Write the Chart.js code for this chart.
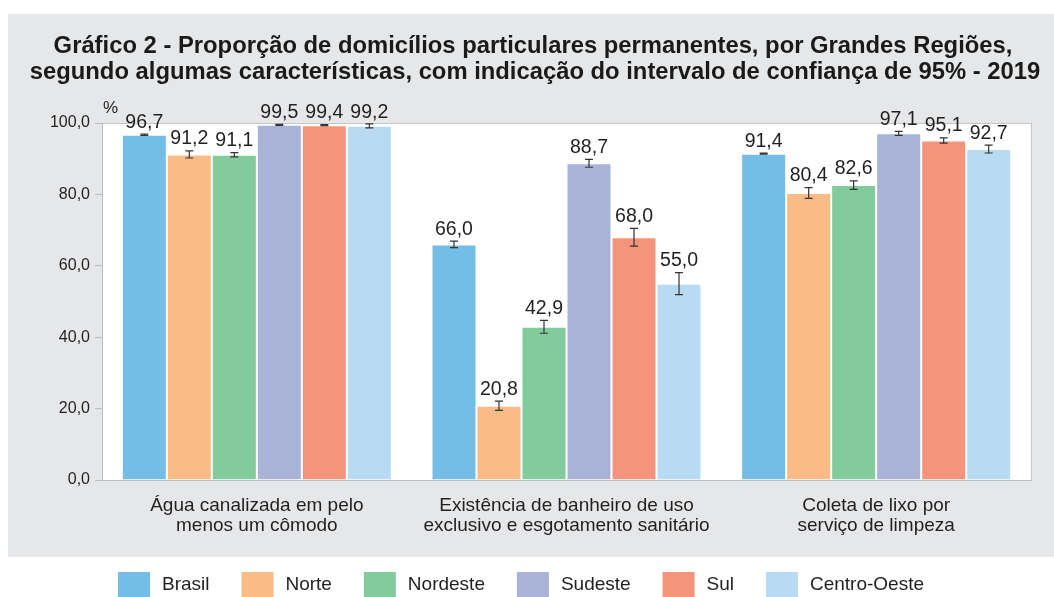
<!DOCTYPE html>
<html><head><meta charset="utf-8">
<script src="https://cdn.jsdelivr.net/npm/chart.js@4"></script>
<style>html,body{margin:0;padding:0;background:#fff;overflow:hidden}#wrap{width:1054px;height:597px}</style>
</head><body><div id="wrap"><canvas id="c" width="1054" height="597"></canvas></div>
<script>
const titleLines = ["Gráfico 2 - Proporção de domicílios particulares permanentes, por Grandes Regiões,",
  "segundo algumas características, com indicação do intervalo de confiança de 95% - 2019"];
const categories = [["Água canalizada em pelo","menos um cômodo"],["Existência de banheiro de uso","exclusivo e esgotamento sanitário"],["Coleta de lixo por","serviço de limpeza"]];
const regions = ["Brasil","Norte","Nordeste","Sudeste","Sul","Centro-Oeste"];
const brasil   = [96.7, 66.0, 91.4];
const norte    = [91.2, 20.8, 80.4];
const nordeste = [91.1, 42.9, 82.6];
const sudeste  = [99.5, 88.7, 97.1];
const sul      = [99.4, 68.0, 95.1];
const centroOeste = [99.2, 55.0, 92.7];
const brasilCI   = [0.2, 0.9, 0.15];
const norteCI    = [1.0, 1.3, 1.5];
const nordesteCI = [0.6, 1.8, 1.2];
const sudesteCI  = [0.15, 1.1, 0.55];
const sulCI      = [0.15, 2.5, 0.75];
const centroOesteCI = [0.55, 3.1, 1.1];
const yTicks = [0, 20, 40, 60, 80, 100];
const colors = ["#73BDE6","#F9BC87","#82CB9C","#A9B3D8","#F4947B","#B8DBF3"];

const seriesValues = [brasil, norte, nordeste, sudeste, sul, centroOeste];
const seriesCI = [brasilCI, norteCI, nordesteCI, sudesteCI, sulCI, centroOesteCI];
const FONT = "'Liberation Sans', Arial, Helvetica, sans-serif";
const fmt = v => v.toFixed(1).replace('.', ',');

const bgPlugin = {
  id: 'bg',
  beforeDraw(chart) {
    const ctx = chart.ctx, a = chart.chartArea;
    ctx.save();
    ctx.fillStyle = '#ffffff';
    ctx.fillRect(0, 0, chart.width, chart.height);
    ctx.fillStyle = '#E6E7E8';
    ctx.fillRect(8, 14, chart.width - 8, 543);
    ctx.fillStyle = '#ffffff';
    ctx.fillRect(a.left, a.top, a.right - a.left, a.bottom - a.top);
    ctx.strokeStyle = '#C4C6C8';
    ctx.lineWidth = 1;
    ctx.strokeRect(a.left + 0.5, a.top + 0.5, a.right - a.left, a.bottom - a.top);
    ctx.restore();
  }
};

const errPlugin = {
  id: 'err',
  afterDatasetsDraw(chart) {
    const ctx = chart.ctx, ys = chart.scales.y;
    ctx.save();
    chart.data.datasets.forEach((ds, di) => {
      const meta = chart.getDatasetMeta(di);
      meta.data.forEach((bar, i) => {
        const v = ds.data[i], e = seriesCI[di][i];
        const yTop = ys.getPixelForValue(v + e), yBot = ys.getPixelForValue(v - e);
        const x = bar.x;
        ctx.strokeStyle = '#333333';
        ctx.lineWidth = 1.2;
        ctx.beginPath();
        ctx.moveTo(x, yTop); ctx.lineTo(x, yBot);
        ctx.moveTo(x - 4, yTop); ctx.lineTo(x + 4, yTop);
        ctx.moveTo(x - 4, yBot); ctx.lineTo(x + 4, yBot);
        ctx.stroke();
        ctx.fillStyle = '#231F20';
        ctx.font = '19.5px ' + FONT;
        ctx.textAlign = 'center';
        ctx.textBaseline = 'bottom';
        ctx.fillText(fmt(v), x, Math.min(bar.y, yTop) - 2);
      });
    });
    ctx.restore();
  }
};

const textPlugin = {
  id: 'texts',
  afterDraw(chart) {
    const ctx = chart.ctx;
    ctx.save();
    ctx.fillStyle = '#1A1A1A';
    ctx.font = 'bold 23.8px ' + FONT;
    ctx.textAlign = 'center';
    ctx.textBaseline = 'middle';
    ctx.fillText(titleLines[0], 533, 46);
    ctx.fillText(titleLines[1], 535, 72);
    ctx.font = '17px ' + FONT;
    ctx.fillStyle = '#231F20';
    ctx.textAlign = 'left';
    ctx.fillText('%', 103, 108);
    // legend from datasets
    ctx.font = '19px ' + FONT;
    const items = chart.data.datasets.map(ds => ({label: ds.label, color: ds.backgroundColor}));
    const boxW = 32, boxH = 25, tg = 12, startX = 118, endX = 924;
    const widths = items.map(it => boxW + tg + ctx.measureText(it.label).width);
    const gap = (endX - startX - widths.reduce((s, w) => s + w, 0)) / (items.length - 1);
    let x = startX;
    items.forEach((it, k) => {
      ctx.fillStyle = it.color;
      ctx.fillRect(x, 572, boxW, boxH);
      ctx.fillStyle = '#231F20';
      ctx.textBaseline = 'middle';
      ctx.fillText(it.label, x + boxW + tg, 585);
      x += widths[k] + gap;
    });
    ctx.restore();
  }
};

new Chart(document.getElementById('c'), {
  type: 'bar',
  data: {
    labels: categories,
    datasets: regions.map((r, k) => ({
      label: r,
      data: seriesValues[k],
      backgroundColor: colors[k],
      borderColor: 'rgba(255,255,255,0.45)',
      borderWidth: 1,
      categoryPercentage: 0.872,
      barPercentage: 1.0
    }))
  },
  options: {
    responsive: false,
    animation: false,
    devicePixelRatio: 1,
    layout: { padding: { top: 123, right: 23, left: 0, bottom: 0 } },
    plugins: { legend: { display: false }, title: { display: false }, tooltip: { enabled: false } },
    scales: {
      x: {
        grid: { display: false, drawTicks: false },
        border: { display: true, color: '#BBBDBF' },
        ticks: { font: { family: FONT, size: 19, lineHeight: 1.05 }, color: '#231F20', padding: 16, maxRotation: 0, autoSkip: false },
        afterFit(s) { s.height = 117; }
      },
      y: {
        min: 0, max: 100,
        afterBuildTicks(s) { s.ticks = yTicks.map(v => ({ value: v })); },
        grid: { drawOnChartArea: false, drawTicks: true, tickLength: 7, color: '#BBBDBF' },
        border: { display: true, color: '#BBBDBF' },
        ticks: { font: { family: FONT, size: 16 }, color: '#231F20', padding: 5, callback: v => fmt(v) },
        afterFit(s) { s.width = 102; }
      }
    }
  },
  plugins: [bgPlugin, errPlugin, textPlugin]
});
</script>
</body></html>
